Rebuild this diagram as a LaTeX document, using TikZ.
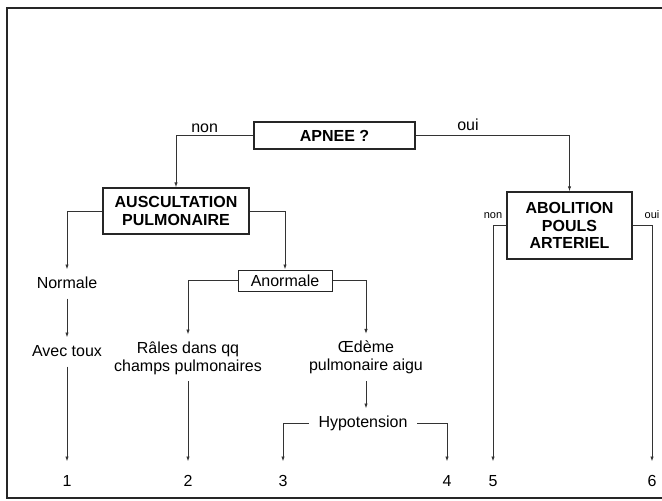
\documentclass[tikz,border=0pt]{standalone}
\usepackage{fontspec}
\setmainfont{Liberation Sans}
\usetikzlibrary{arrows.meta}
\tikzset{question box/.style={draw=black!85, line width=1.4pt, font=\bfseries\fontsize{16}{17.5}\selectfont, align=center, inner sep=0pt}}
\tikzset{answer box/.style={draw=black!85, line width=1pt, font=\fontsize{16}{18}\selectfont, inner sep=0pt}}
\tikzset{answer/.style={font=\fontsize{16}{18}\selectfont, align=center, inner sep=0pt, outer ysep=7pt}}
\tikzset{one line/.style={text height=11.5pt, text depth=3.5pt}}
\tikzset{leaf/.style={answer, one line, outer ysep=13pt}}
\tikzset{small lab/.style={font=\fontsize{11}{12}\selectfont, inner sep=1pt}}

\begin{document}
\begin{tikzpicture}[x=1pt, y=-1pt, arr/.style={draw=black!80, line width=0.9pt, -{Latex[length=5pt,width=3.5pt]}}]
	\useasboundingbox (0,0) rectangle (662,501);
	\draw[line width=2.6pt, black!85] (662,8) -| (7,498) -- (662,498);

	\node[question box, minimum width=161pt, minimum height=27pt] at (334.5,135.5) (apnee) {APNEE ?};
	\node[question box, minimum width=146pt, minimum height=46pt] at (176,211) (ausc) {AUSCULTATION\\PULMONAIRE};
	\node[question box, minimum width=125pt, minimum height=67pt] at (569.5,225.5) (abol) {ABOLITION\\POULS\\ARTERIEL};
	\node[answer box, minimum width=94pt, minimum height=21pt] at (285,280.5) (anorm) {Anormale};

	\node[answer, one line] at (67,284) (normale) {Normale};
	\node[answer, one line] at (67,352) (avec) {Avec toux};
	\node[answer] at (188,358) (rales) {Râles dans qq\\champs pulmonaires};
	\node[answer] at (366,357.5) (oedeme) {Œdème\\pulmonaire aigu};
	\node[answer, one line, outer xsep=10pt] at (363,423) (hypo) {Hypotension};

	\node[leaf] at (67,482)  (n1) {1};
	\node[leaf] at (188,482) (n2) {2};
	\node[leaf] at (283,482) (n3) {3};
	\node[leaf] at (447,482) (n4) {4};
	\node[leaf] at (493,482) (n5) {5};
	\node[leaf] at (652,482) (n6) {6};

	% apnee
	\draw[arr] (apnee.west) -| node[pos=0.315, above=3pt, answer, outer ysep=0pt] {non} (ausc.north);
	\draw[arr] (apnee.east) -| node[pos=0.17, above=5pt, answer, outer ysep=0pt] {oui} (abol.north);
	% auscultation
	\draw[arr] (ausc.west) -| (normale.north);
	\draw[arr] (ausc.east) -| (anorm.north);
	\draw[arr] (normale.south) -- (avec.north);
	\draw[arr] (avec.south) -- (n1.north);
	\draw[arr] (anorm.west) -| (rales.north);
	\draw[arr] (anorm.east) -| (oedeme.north);
	\draw[arr] (rales.south) -- (n2.north);
	\draw[arr] (oedeme.south) -- (oedeme.south |- hypo.north);
	\draw[arr] (hypo.west) -| (n3.north);
	\draw[arr] (hypo.east) -| (n4.north);
	% pouls
	\draw[arr] (abol.west) -| node[pos=0.5, above=5pt, small lab] {non} (n5.north);
	\draw[arr] (abol.east) -| node[pos=0.5, above=5pt, small lab] {oui} (n6.north);
\end{tikzpicture}
\end{document}
